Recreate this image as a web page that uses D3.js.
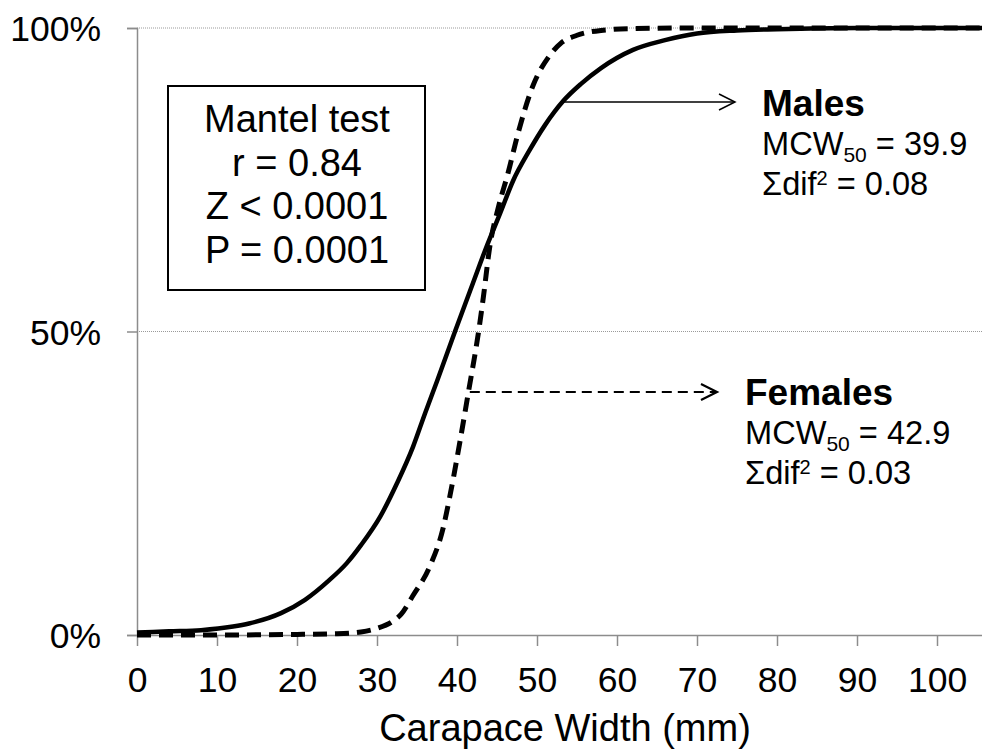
<!DOCTYPE html>
<html>
<head>
<meta charset="utf-8">
<script src="https://cdn.jsdelivr.net/npm/d3@7"></script>
<style>
  html, body { margin: 0; padding: 0; background: #fff; }
  svg { display: block; font-family: "Liberation Sans", Arial, sans-serif; }
</style>
</head>
<body>
<svg id="chart" width="982" height="750"></svg>
<script>
// ---- data ----
const malesX   = [0, 4, 8, 12, 14, 18, 21, 24, 26.2, 28, 30.4, 32.5, 34.5, 36, 37.5, 39.75, 42, 43.7, 45.4, 47, 49, 51, 53.3, 55.5, 58, 62, 66, 70, 75, 80, 90, 106];
const malesY   = [0.004, 0.006, 0.008, 0.014, 0.019, 0.036, 0.058, 0.09, 0.118, 0.148, 0.195, 0.25, 0.31, 0.365, 0.418, 0.50, 0.58, 0.64, 0.695, 0.748, 0.797, 0.84, 0.88, 0.908, 0.934, 0.964, 0.98, 0.991, 0.996, 0.998, 1.0, 1.0];
const femalesX = [0, 10, 20, 25, 28, 30, 32, 33, 34.5, 36.6, 38.3, 39.1, 40.4, 41.4, 42.7, 43.3, 44.1, 45.2, 46.4, 47.5, 49.5, 51.6, 53, 55, 58, 62, 70, 106];
const femalesY = [0, 0, 0.001, 0.002, 0.005, 0.011, 0.023, 0.034, 0.065, 0.113, 0.178, 0.228, 0.321, 0.398, 0.50, 0.557, 0.64, 0.706, 0.762, 0.82, 0.905, 0.955, 0.975, 0.988, 0.996, 0.999, 1.0, 1.0];
const xTicks = [0, 10, 20, 30, 40, 50, 60, 70, 80, 90, 100];
const yTicks = [0, 0.5, 1];
const yTickLabels = ["0%", "50%", "100%"];
const xTitle = "Carapace Width (mm)";
const statsLines = ["Mantel test", "r = 0.84", "Z < 0.0001", "P = 0.0001"];
const males = { name: "Males", mcw: "39.9", dif: "0.08" };
const females = { name: "Females", mcw: "42.9", dif: "0.03" };

// ---- layout ----
const svg = d3.select("#chart");
const x = d3.scaleLinear().domain([0, 106]).range([137, 985]);
const y = d3.scaleLinear().domain([0, 1]).range([635, 28]);
const axisColor = "#8c8c8c";

// gridlines
svg.append("g").selectAll("line").data(yTicks.filter(d => d > 0)).join("line")
  .attr("x1", x(0)).attr("x2", 982)
  .attr("y1", d => y(d)).attr("y2", d => y(d))
  .attr("stroke", "#9a9a9a").attr("stroke-width", 1).attr("stroke-dasharray", "1,1");

// y axis
const yAxis = svg.append("g").attr("transform", `translate(${x(0)},0)`)
  .call(d3.axisLeft(y).tickValues(yTicks).tickSize(10).tickPadding(26)
    .tickFormat((d, i) => yTickLabels[i]));
yAxis.select(".domain").attr("stroke", axisColor).attr("stroke-width", 1.5);
yAxis.selectAll(".tick line").attr("stroke", axisColor).attr("stroke-width", 1.5);
yAxis.selectAll(".tick text").attr("font-size", 35.5).attr("fill", "#000")
  .attr("font-family", "Liberation Sans, Arial, sans-serif").attr("dy", "0.36em");

// x axis
const xAxis = svg.append("g").attr("transform", `translate(0,${y(0)})`)
  .call(d3.axisBottom(x).tickValues(xTicks).tickSizeInner(11).tickSizeOuter(0).tickPadding(21));
xAxis.select(".domain").attr("stroke", axisColor).attr("stroke-width", 1.5);
xAxis.selectAll(".tick line").attr("stroke", axisColor).attr("stroke-width", 1.5);
xAxis.selectAll(".tick text").attr("font-size", 35.5).attr("fill", "#000")
  .attr("font-family", "Liberation Sans, Arial, sans-serif").attr("dy", "0.71em");

svg.append("text").attr("x", 565).attr("y", 741).attr("text-anchor", "middle")
  .attr("font-size", 38).text(xTitle);

// curves
const line = d3.line().x(d => x(d[0])).y(d => y(d[1])).curve(d3.curveMonotoneX);
svg.append("path").datum(femalesX.map((v, i) => [v, femalesY[i]]))
  .attr("d", line).attr("fill", "none").attr("stroke", "#000")
  .attr("stroke-width", 5).attr("stroke-dasharray", "14,8");
svg.append("path").datum(malesX.map((v, i) => [v, malesY[i]]))
  .attr("d", line).attr("fill", "none").attr("stroke", "#000")
  .attr("stroke-width", 4.5);

// stats box
svg.append("rect").attr("x", 168).attr("y", 86).attr("width", 257).attr("height", 204)
  .attr("fill", "#fff").attr("stroke", "#000").attr("stroke-width", 2);
svg.append("g").selectAll("text").data(statsLines).join("text")
  .attr("x", 297).attr("y", (d, i) => 132 + i * 43.7)
  .attr("text-anchor", "middle").attr("font-size", 38).text(d => d);

// arrows
function arrow(x1, x2, yy, dashed) {
  const g = svg.append("g").attr("stroke", "#000").attr("fill", "none");
  g.append("line").attr("x1", x1).attr("x2", x2 - 1).attr("y1", yy).attr("y2", yy)
    .attr("stroke-width", dashed ? 2.2 : 1.5)
    .attr("stroke-dasharray", dashed ? "10,6" : null);
  g.append("path").attr("d", `M${x2 - 16},${yy - 8}L${x2},${yy}L${x2 - 16},${yy + 8}`)
    .attr("stroke-width", dashed ? 2.2 : 1.5);
}
arrow(x(53.1), x(74.75), 102, false);
arrow(x(41.6), x(72.5), 392, true);

// annotations
function annot(info, tx, y0) {
  svg.append("text").attr("x", tx).attr("y", y0).attr("font-size", 37)
    .attr("font-weight", "bold").text(info.name);
  const t1 = svg.append("text").attr("x", tx).attr("y", y0 + 39).attr("font-size", 32.6);
  t1.append("tspan").text("MCW");
  t1.append("tspan").attr("font-size", 21).attr("dy", 7).text("50");
  t1.append("tspan").attr("dy", -7).text(" = " + info.mcw);
  const t2 = svg.append("text").attr("x", tx).attr("y", y0 + 79).attr("font-size", 32.6);
  t2.append("tspan").text("Σdif");
  t2.append("tspan").attr("font-size", 20).attr("dy", -10).text("2");
  t2.append("tspan").attr("dy", 10).text(" = " + info.dif);
}
annot(males, 762, 116);
annot(females, 745, 405);
</script>
</body>
</html>
